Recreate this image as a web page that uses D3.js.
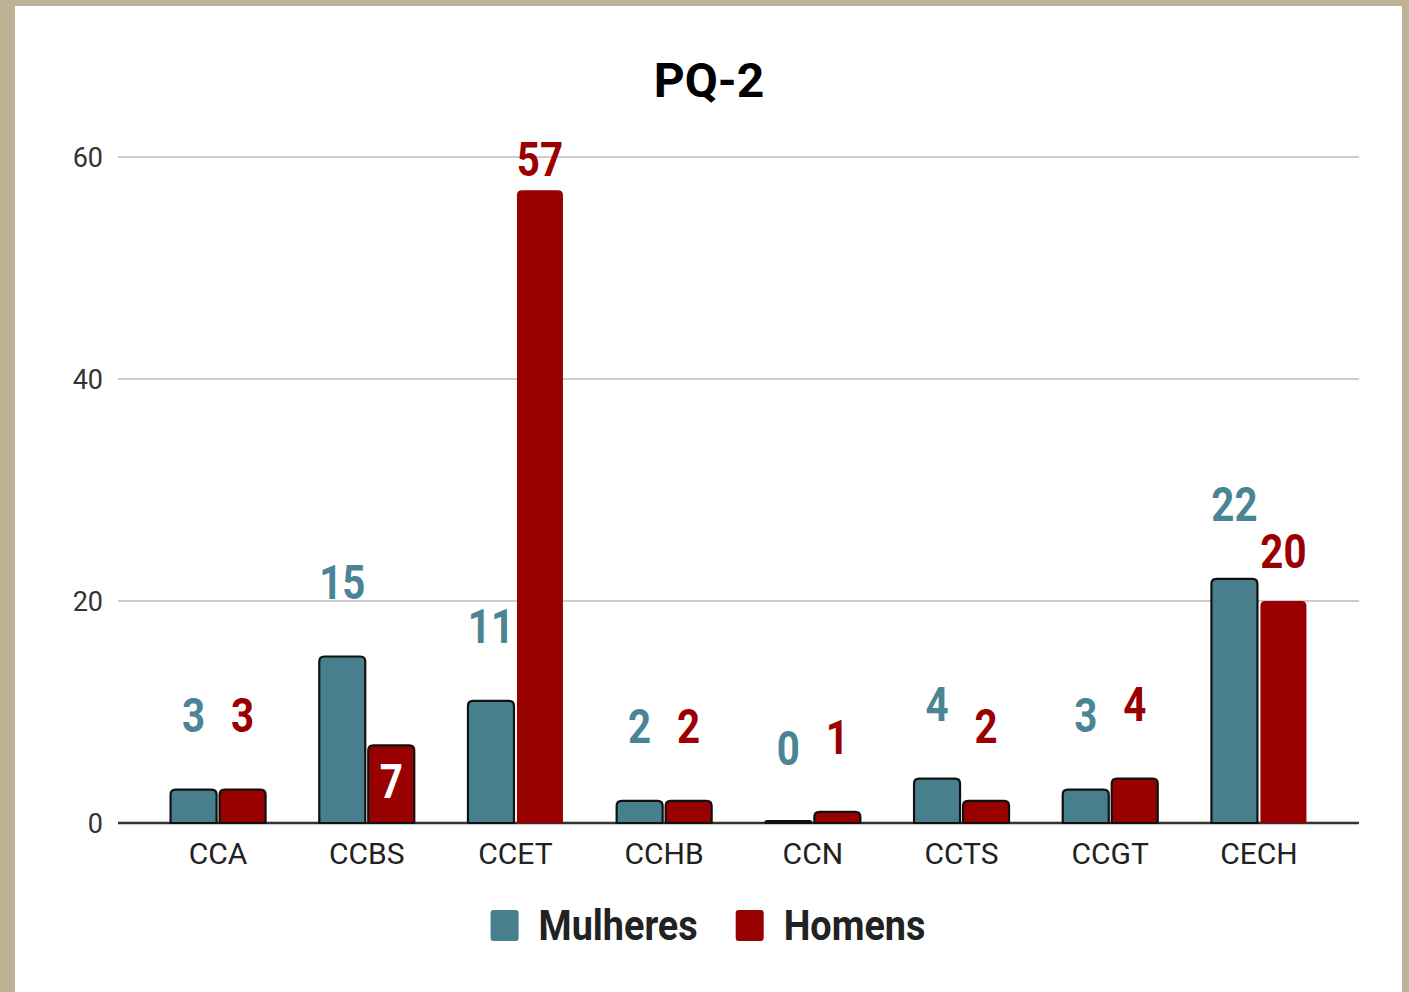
<!DOCTYPE html>
<html>
<head>
<meta charset="utf-8">
<script src="https://cdn.jsdelivr.net/npm/d3@7"></script>
<style>
  html, body { margin: 0; padding: 0; background: #bfb395; }
  #chart { position: absolute; left: 15px; top: 6px; width: 1387px; height: 986px; background: #fff; }
  svg { display: block; font-family: Roboto, "Noto Sans", sans-serif; }
</style>
</head>
<body>
<div id="chart"></div>
<script>
// data
var categories = ["CCA", "CCBS", "CCET", "CCHB", "CCN", "CCTS", "CCGT", "CECH"];
var mulheres = [3, 15, 11, 2, 0, 4, 3, 22];
var homens = [3, 7, 57, 2, 1, 2, 4, 20];
var seriesNames = ["Mulheres", "Homens"];
var yTicks = [0, 20, 40, 60];

// label placement (px between bar top and label baseline), hand tuned like the original
var liftMulheres = 58;
var liftHomens = [58, -53, 14, 58, 58, 58, 58, 33];
var homensNoStroke = ["CCET", "CECH"];

var colors = { Mulheres: "#487f8c", Homens: "#990000" };
var labelColors = { Mulheres: "#4a8595", Homens: "#9b0000" };

// panel is offset by (15,6) in the page, so subtract that from page coords
var ox = 15, oy = 6;
var width = 1387, height = 986;

var svg = d3.select("#chart").append("svg")
    .attr("width", width)
    .attr("height", height);

var x0 = d3.scaleBand()
    .domain(categories)
    .range([118 - ox, 1359 - ox])
    .paddingInner(0)
    .paddingOuter(0.173);

var x1 = d3.scaleBand()
    .domain(seriesNames)
    .range([0, 95])
    .paddingInner(0.061);

var y = d3.scaleLinear()
    .domain([0, 60])
    .range([823 - oy, 157 - oy]);

// title
svg.append("text")
    .attr("x", 709 - ox)
    .attr("y", 97 - oy)
    .attr("text-anchor", "middle")
    .attr("font-size", 48)
    .attr("font-weight", 700)
    .attr("fill", "#000")
    .text("PQ-2");

// gridlines
svg.append("g")
    .selectAll("line")
    .data(yTicks.filter(d => d > 0))
    .enter().append("line")
    .attr("x1", 118 - ox)
    .attr("x2", 1359 - ox)
    .attr("y1", d => y(d))
    .attr("y2", d => y(d))
    .attr("stroke", "#cccccc")
    .attr("stroke-width", 2);

// y tick labels
svg.append("g")
    .selectAll("text")
    .data(yTicks)
    .enter().append("text")
    .attr("x", 103 - ox)
    .attr("y", d => y(d) + 10)
    .attr("text-anchor", "end")
    .attr("font-size", 27)
    .attr("fill", "#333")
    .text(d => d);

// bars
var rows = [];
categories.forEach((c, i) => {
    rows.push({ cat: c, series: "Mulheres", value: mulheres[i], lift: liftMulheres });
    rows.push({ cat: c, series: "Homens", value: homens[i], lift: liftHomens[i] });
});

function barX(d) {
    return x0(d.cat) + (x0.bandwidth() - 95) / 2 + x1(d.series);
}

function barPath(d) {
    var bx = barX(d);
    var bw = x1.bandwidth();
    var bottom = y(0);
    var top = Math.min(y(d.value), bottom - 2); // zero bars still show as a thin outline
    var r = Math.min(5, (bottom - top));
    return "M" + bx + "," + bottom +
        "V" + (top + r) +
        "Q" + bx + "," + top + " " + (bx + r) + "," + top +
        "H" + (bx + bw - r) +
        "Q" + (bx + bw) + "," + top + " " + (bx + bw) + "," + (top + r) +
        "V" + bottom + "Z";
}

// baseline
svg.append("line")
    .attr("x1", 118 - ox)
    .attr("x2", 1359 - ox)
    .attr("y1", y(0))
    .attr("y2", y(0))
    .attr("stroke", "#333")
    .attr("stroke-width", 2.5);

svg.append("g")
    .selectAll("path")
    .data(rows)
    .enter().append("path")
    .attr("d", barPath)
    .attr("fill", d => colors[d.series])
    .attr("stroke", d => (d.series === "Homens" && homensNoStroke.indexOf(d.cat) >= 0) ? "none" : "#111")
    .attr("stroke-width", 2.2)
    .attr("stroke-linejoin", "round");

// value labels (condensed look via horizontal scale)
svg.append("g")
    .selectAll("g")
    .data(rows)
    .enter().append("g")
    .attr("transform", d => {
        var cx = barX(d) + x1.bandwidth() / 2;
        return "translate(" + cx + "," + (y(d.value) - d.lift) + ") scale(0.84,1)";
    })
    .append("text")
    .attr("text-anchor", "middle")
    .attr("font-size", 48)
    .attr("font-weight", 700)
    .attr("fill", d => d.lift < 0 ? "#fff" : labelColors[d.series])
    .text(d => d.value);

// x axis labels
svg.append("g")
    .selectAll("text")
    .data(categories)
    .enter().append("text")
    .attr("x", d => x0(d) + x0.bandwidth() / 2)
    .attr("y", 864 - oy)
    .attr("text-anchor", "middle")
    .attr("font-size", 30)
    .attr("fill", "#222")
    .text(d => d);

// legend
var legend = svg.append("g");
var items = [];
var lx = 0;
seriesNames.forEach((s, i) => {
    var g = legend.append("g");
    g.append("rect")
        .attr("x", 0).attr("y", -30)
        .attr("width", 28).attr("height", 31)
        .attr("rx", 3)
        .attr("fill", colors[s]);
    var t = g.append("text")
        .attr("transform", "translate(48,0) scale(0.9,1)")
        .attr("font-size", 42)
        .attr("font-weight", 700)
        .attr("fill", "#222")
        .text(s);
    var w = 48 + t.node().getComputedTextLength() * 0.9;
    items.push({ g: g, x: lx });
    lx += w + (i < seriesNames.length - 1 ? 38 : 0);
});
var start = 708 - ox - lx / 2;
items.forEach(it => it.g.attr("transform", "translate(" + (start + it.x) + "," + (940 - oy) + ")"));
</script>
</body>
</html>
